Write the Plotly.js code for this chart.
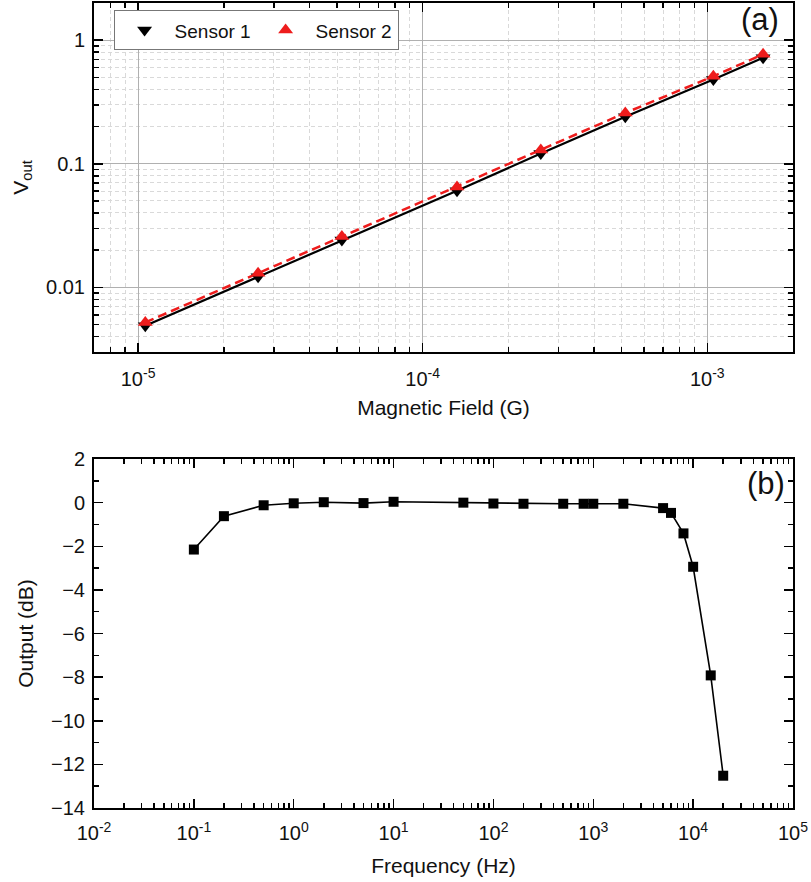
<!DOCTYPE html>
<html>
<head>
<meta charset="utf-8">
<script src="https://cdn.plot.ly/plotly-3.0.1.min.js"></script>
<style>html,body{margin:0;padding:0;background:#fff;}#chart{width:811px;height:882px;}</style>
</head>
<body>
<div id="chart"></div>
<script>
// Panel (a): output voltage vs magnetic field
const fieldG = [1.06e-5, 2.64e-5, 5.2e-5, 1.32e-4, 2.6e-4, 5.15e-4, 1.05e-3, 1.57e-3];
const sensor1 = [0.0049, 0.0122, 0.0242, 0.0605, 0.121, 0.24, 0.48, 0.72];
const sensor2 = [0.0052, 0.0130, 0.0258, 0.0650, 0.129, 0.258, 0.51, 0.77];
const fieldTickVals = [1e-5, 1e-4, 1e-3];
const fieldTickText = ['10<sup>-5</sup>', '10<sup>-4</sup>', '10<sup>-3</sup>'];
const voutTickVals = [0.01, 0.1, 1];
const voutTickText = ['0.01', '0.1', '1'];

// Panel (b): frequency response
const freqHz = [0.1, 0.2, 0.5, 1, 2, 5, 10, 50, 100, 200, 500, 800, 1000, 2000, 5000, 6000, 8000, 10000, 15000, 20000];
const outputDb = [-2.15, -0.62, -0.12, -0.03, 0.02, -0.02, 0.04, 0.0, -0.04, -0.05, -0.05, -0.05, -0.05, -0.05, -0.25, -0.47, -1.41, -2.94, -7.92, -12.52];
const freqTickVals = [1e-2, 1e-1, 1, 10, 100, 1000, 1e4, 1e5];
const freqTickText = ['10<sup>-2</sup>', '10<sup>-1</sup>', '10<sup>0</sup>', '10<sup>1</sup>', '10<sup>2</sup>', '10<sup>3</sup>', '10<sup>4</sup>', '10<sup>5</sup>'];

// minor log ticks (2..9 in each decade) for the axis configuration
function minorLog(lo, hi) {
  const out = [];
  for (let e = lo; e <= hi; e++) for (let m = 2; m <= 9; m++) out.push(m * Math.pow(10, e));
  return out;
}

const FONT = 'Arial, "Liberation Sans", sans-serif';
const RED = '#ee1c1c';

const traces = [
  {x: fieldG, y: sensor1, mode: 'lines', line: {color: '#000', width: 2.2}, showlegend: false, xaxis: 'x', yaxis: 'y', hoverinfo: 'skip'},
  {x: fieldG, y: sensor2, mode: 'lines', line: {color: RED, width: 2.5, dash: '9px,5px'}, showlegend: false, xaxis: 'x', yaxis: 'y', hoverinfo: 'skip'},
  {x: fieldG, y: sensor1, mode: 'markers', name: 'Sensor 1', marker: {symbol: 'triangle-down', color: '#000', size: 13}, xaxis: 'x', yaxis: 'y'},
  {x: fieldG, y: sensor2, mode: 'markers', name: 'Sensor 2', marker: {symbol: 'triangle-up', color: RED, size: 13}, xaxis: 'x', yaxis: 'y'},
  {x: freqHz, y: outputDb, mode: 'lines+markers', showlegend: false, line: {color: '#000', width: 1.6}, marker: {symbol: 'square', color: '#000', size: 10}, xaxis: 'x2', yaxis: 'y2'}
];

const axBase = {
  showline: true, linecolor: '#000', linewidth: 2, mirror: 'ticks',
  ticks: 'inside', tickcolor: '#000', tickwidth: 1.5, ticklen: 9,
  tickfont: {family: FONT, size: 20, color: '#111'},
  zeroline: false
};
const minorGrid = {ticks: 'inside', ticklen: 5, tickcolor: '#000', tickwidth: 1.5, showgrid: true, gridcolor: '#d9d9d9', griddash: '4px,3px', gridwidth: 1};
const minorNoGrid = {ticks: 'inside', ticklen: 5, tickcolor: '#000', tickwidth: 1.5, showgrid: false};

const layout = {
  width: 811, height: 882,
  margin: {l: 93.5, r: 17.5, t: 3, b: 74},
  paper_bgcolor: '#fff', plot_bgcolor: '#fff',
  font: {family: FONT, color: '#111'},
  showlegend: true,
  legend: {
    orientation: 'h', x: 0.028, y: 0.991, xanchor: 'left', yanchor: 'top',
    bgcolor: '#fff', bordercolor: '#777', borderwidth: 1, itemwidth: 50,
    font: {family: FONT, size: 19, color: '#111'}
  },
  xaxis: Object.assign({}, axBase, {
    type: 'log', domain: [0, 1], anchor: 'y',
    range: [Math.log10(7e-6), Math.log10(2e-3)],
    tickmode: 'array', tickvals: fieldTickVals, ticktext: fieldTickText,
    showgrid: true, gridcolor: '#b0b0b0', gridwidth: 1,
    minor: Object.assign({tickmode: 'array', tickvals: minorLog(-6, -3)}, minorGrid),
    ticklabelstandoff: 8,
    title: {text: 'Magnetic Field (G)', font: {family: FONT, size: 21, color: '#111'}, standoff: 11}
  }),
  yaxis: Object.assign({}, axBase, {
    type: 'log', domain: [0.5665, 1], anchor: 'x',
    range: [Math.log10(0.003), Math.log10(2)],
    tickmode: 'array', tickvals: voutTickVals, ticktext: voutTickText,
    showgrid: true, gridcolor: '#b0b0b0', gridwidth: 1,
    minor: Object.assign({tickmode: 'array', tickvals: minorLog(-3, 0)}, minorGrid),
    ticklabelstandoff: 3,
    title: {text: 'V<sub>out</sub>', font: {family: FONT, size: 21, color: '#111'}, standoff: 12}
  }),
  xaxis2: Object.assign({}, axBase, {
    type: 'log', domain: [0, 1], anchor: 'y2',
    range: [-2, 5],
    tickmode: 'array', tickvals: freqTickVals, ticktext: freqTickText,
    showgrid: false,
    minor: Object.assign({tickmode: 'array', tickvals: minorLog(-2, 4)}, minorNoGrid),
    ticklabelstandoff: 6,
    title: {text: 'Frequency (Hz)', font: {family: FONT, size: 21, color: '#111'}, standoff: 15}
  }),
  yaxis2: Object.assign({}, axBase, {
    domain: [0, 0.4335], anchor: 'x2',
    range: [-14, 2], dtick: 2, tick0: 0,
    showgrid: false,
    minor: Object.assign({dtick: 1}, minorNoGrid),
    ticklabelstandoff: 3,
    title: {text: 'Output (dB)', font: {family: FONT, size: 21, color: '#111'}, standoff: 12}
  }),
  annotations: [
    {text: '(a)', xref: 'paper', yref: 'paper', x: 0.953, y: 0.979, xanchor: 'center', yanchor: 'middle', showarrow: false, font: {family: FONT, size: 31, color: '#111'}},
    {text: '(b)', xref: 'paper', yref: 'paper', x: 0.961, y: 0.4025, xanchor: 'center', yanchor: 'middle', showarrow: false, font: {family: FONT, size: 31, color: '#111'}}
  ]
};

Plotly.newPlot('chart', traces, layout, {staticPlot: true});
</script>
</body>
</html>
